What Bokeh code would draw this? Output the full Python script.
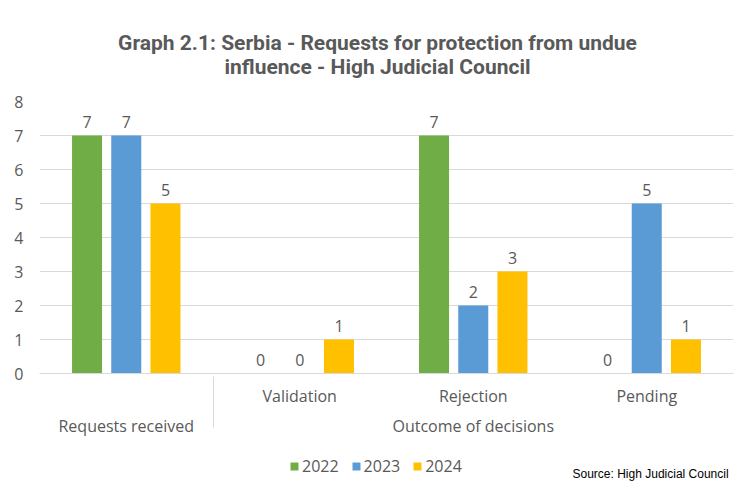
from bokeh.plotting import figure
from bokeh.models import (FactorRange, ColumnDataSource, Legend, LegendItem,
                          FixedTicker, CategoricalAxis, Label, Range1d)
from bokeh.layouts import column
from bokeh.transform import dodge
from bokeh.embed import file_html
from bokeh.resources import INLINE

# ---- data ----
groups = ["Requests received", "Outcome of decisions", "Outcome of decisions", "Outcome of decisions"]
subcats = ["", "Validation", "Rejection", "Pending"]
years = ["2022", "2023", "2024"]
v2022 = [7, 0, 7, 0]
v2023 = [7, 0, 2, 5]
v2024 = [5, 1, 3, 1]
colors = ["#70AD47", "#5B9BD5", "#FFC000"]
y_ticks = [0, 1, 2, 3, 4, 5, 6, 7, 8]
title_line1 = "Graph 2.1: Serbia - Requests for protection from undue"
title_line2 = "influence - High Judicial Council"
source_text = "Source: High Judicial Council"

factors = list(zip(groups, subcats))
src = ColumnDataSource(dict(x=factors, v2022=v2022, v2023=v2023, v2024=v2024,
                            l2022=[str(v) for v in v2022],
                            l2023=[str(v) for v in v2023],
                            l2024=[str(v) for v in v2024]))

TXT = "#595959"
FONT = "Open Sans"
FS = "16px"


def strip(height):
    f = figure(width=737, height=height, x_range=Range1d(0, 1), y_range=Range1d(0, 1),
               output_backend="svg", toolbar_location=None, tools="",
               x_axis_location=None, y_axis_location=None, min_border=0)
    f.min_border_left = 39
    f.min_border_right = 4
    f.outline_line_color = None
    f.grid.grid_line_color = None
    return f


# ---- title strip ----
p0 = strip(90)
for txt, ty in ((title_line1, 48), (title_line2, 24)):
    p0.add_layout(Label(x=338, y=ty, x_units="screen", y_units="screen", text=txt,
                        text_align="center", text_baseline="middle", text_font="Roboto",
                        text_font_style="bold", text_font_size="21px", text_color=TXT))

# ---- main chart ----
p = figure(x_range=FactorRange(*factors, range_padding=0, factor_padding=0, group_padding=0,
                               subgroup_padding=0),
           y_range=(0, 8), width=737, height=349, output_backend="svg",
           toolbar_location=None, tools="", x_axis_location=None)

p.min_border_left = 39
p.min_border_right = 4
p.min_border_top = 11
p.min_border_bottom = 0
p.outline_line_color = None

xaxis = CategoricalAxis()
xaxis.axis_line_color = "#D9D9D9"
xaxis.major_tick_line_color = None
xaxis.minor_tick_line_color = None
xaxis.major_label_text_font = FONT
xaxis.major_label_text_font_size = FS
xaxis.major_label_text_color = TXT
xaxis.major_label_standoff = 5
xaxis.group_text_font = FONT
xaxis.group_text_font_size = FS
xaxis.group_text_font_style = "normal"
xaxis.group_text_color = TXT
xaxis.separator_line_color = "#D9D9D9"
xaxis.separator_line_width = 1
p.add_layout(xaxis, "below")

p.yaxis.ticker = FixedTicker(ticks=y_ticks)
p.yaxis.axis_line_color = None
p.yaxis.major_tick_line_color = None
p.yaxis.minor_tick_line_color = None
p.yaxis.major_label_text_font = FONT
p.yaxis.major_label_text_font_size = FS
p.yaxis.major_label_text_color = TXT
p.yaxis.major_label_standoff = 10

p.ygrid.ticker = FixedTicker(ticks=y_ticks)
p.ygrid.grid_line_color = "#D9D9D9"
p.ygrid.grid_line_width = 1
p.xgrid.grid_line_color = None

offsets = [-0.226, 0.0, 0.226]
for yr, col, off in zip(years, colors, offsets):
    p.vbar(x=dodge("x", off, range=p.x_range), top="v" + yr, width=0.173,
           source=src, fill_color=col, line_color=None)
    p.text(x=dodge("x", off, range=p.x_range), y="v" + yr, text="l" + yr, source=src,
           text_align="center", text_baseline="bottom", y_offset=-8,
           text_font_size=FS, text_color=TXT, text_font={"value": FONT})

# ---- legend + source strip ----
p2 = strip(42)
items = []
for yr, col in zip(years, colors):
    r = p2.vbar(x=[0.5], top=[0], width=0, fill_color=col, line_color=None)
    items.append(LegendItem(label=yr, renderers=[r]))
legend = Legend(items=items, orientation="horizontal", location=(250, 4),
                label_text_font=FONT, label_text_font_size=FS, label_text_color=TXT,
                glyph_width=10, glyph_height=10, label_standoff=3, spacing=12,
                border_line_color=None, background_fill_alpha=0, padding=2, margin=0)
p2.add_layout(legend)
p2.add_layout(Label(x=533, y=1, x_units="screen", y_units="screen", text=source_text,
                    text_align="left", text_baseline="bottom", text_font="Liberation Sans",
                    text_font_size="12px", text_color="black"))

open("out.html", "w").write(file_html(column(p0, p, p2, spacing=0), INLINE))
